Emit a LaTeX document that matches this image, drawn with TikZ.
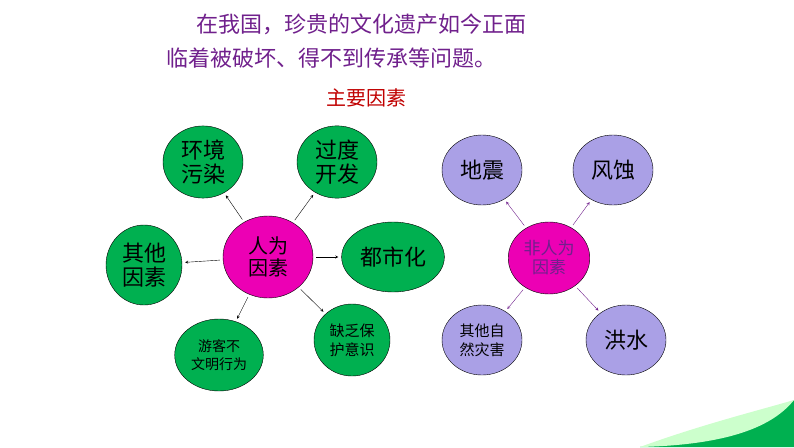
\documentclass[tikz,border=0pt]{standalone}
\usepackage{fontspec}
\setmainfont{Noto Sans CJK SC}
\usetikzlibrary{shapes.geometric, arrows}
\definecolor{titlecol}{RGB}{112,32,140}
\definecolor{keycol}{RGB}{192,0,0}
\definecolor{leafgreen}{RGB}{0,176,80}
\definecolor{hubpink}{RGB}{236,0,180}
\definecolor{leaflav}{RGB}{170,160,230}
\tikzstyle{hub} = [ellipse, draw=black, fill=hubpink, text=black, minimum width=90pt, minimum height=82pt, align=center, font=\fontsize{20}{22}\selectfont]
\tikzstyle{humanleaf} = [ellipse, draw=black, fill=leafgreen, minimum width=80pt, minimum height=70pt, align=center, font=\fontsize{22}{24}\selectfont]
\tikzstyle{natleaf} = [ellipse, draw=black, fill=leaflav, minimum width=80pt, minimum height=70pt, align=center, font=\fontsize{22}{24}\selectfont]
\tikzstyle{arrow} = [->, >=stealth, shorten <=3pt, shorten >=3pt]
\begin{document}
\begin{tikzpicture}[x=1pt, y=-1pt]
\useasboundingbox (0,0) rectangle (794,447);

\node(line1)[text=titlecol, anchor=west, font=\fontsize{22}{24}\selectfont] at (193,24) {在我国，珍贵的文化遗产如今正面};
\node(line2)[text=titlecol, anchor=west, font=\fontsize{22}{24}\selectfont] at (163,58) {临着被破坏、得不到传承等问题。};
\node(key)[text=keycol, font=\fontsize{20}{22}\selectfont] at (366,98) {主要因素};

\node(human)[hub] at (268,257) {人为\\因素};
\node(pollute)[humanleaf] at (203,162) {环境\\污染};
\node(overdev)[humanleaf] at (337,162) {过度\\开发};
\node(urban)[humanleaf] at (393,257) {都市化};
\node(otherH)[humanleaf, minimum width=76pt, minimum height=80pt] at (144,265) {其他\\因素};
\node(tourist)[humanleaf, minimum width=86pt, minimum height=72pt, font=\fontsize{14}{18}\selectfont] at (219,355) {游客不\\文明行为};
\node(noprot)[humanleaf, minimum width=76pt, minimum height=72pt, font=\fontsize{15}{19}\selectfont] at (352,340) {缺乏保\\护意识};

\node(nature)[hub, minimum width=78pt, minimum height=72pt, text=titlecol, font=\fontsize{17}{19}\selectfont] at (549,258) {非人为\\因素};
\node(quake)[natleaf] at (482,170) {地震};
\node(wind)[natleaf] at (613,170) {风蚀};
\node(otherN)[natleaf, font=\fontsize{15}{19}\selectfont] at (482,340) {其他自\\然灾害};
\node(flood)[natleaf] at (626,340) {洪水};

\draw[arrow](human) -- (pollute);
\draw[arrow](human) -- (overdev);
\draw[arrow](human) -- (urban);
\draw[arrow](human) -- (otherH);
\draw[arrow](human) -- (tourist);
\draw[arrow](human) -- (noprot);

\draw[arrow, titlecol](nature) -- (quake);
\draw[arrow, titlecol](nature) -- (wind);
\draw[arrow, titlecol](nature) -- (otherN);
\draw[arrow, titlecol](nature) -- (flood);

\fill[leafgreen] (794,400) -- (794,447) -- (640,447) .. controls (700,440) and (760,425) .. (794,400);
\fill[green!20] (794,400) .. controls (770,430) and (720,445) .. (640,447) .. controls (700,425) and (760,410) .. (794,400);
\end{tikzpicture}
\end{document}
